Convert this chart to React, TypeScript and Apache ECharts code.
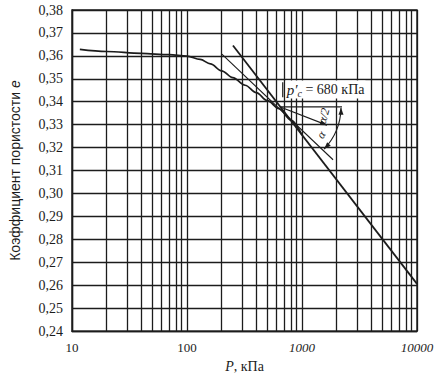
import React, { useEffect, useRef } from "react";
import * as echarts from "echarts";

// Compression curve e – log P (curved part; the straight part follows the virgin line)
const curveP = [11.7, 20, 40, 70, 100, 130, 160, 200, 250, 320, 400, 500, 630, 800, 1000];
const curveE = [0.3628, 0.3619, 0.3611, 0.3605, 0.3599, 0.3585, 0.3565, 0.3535, 0.3505, 0.3472, 0.344, 0.3405, 0.337, 0.332, 0.3254];

// Casagrande construction
const virginP = [251, 10000];
const virginE = [0.3645, 0.2606];
const tangentP = [201, 1862];
const tangentE = [0.3608, 0.3147];
const pointM = [640, 0.3378];
const horizontalP = [640, 2228];
const horizontalE = [0.3378, 0.3378];
const bisectorP = [640, 1648];
const bisectorE = [0.3378, 0.3298];
const pcValue = 680;
const pcTickE = [0.3485, 0.342];
const pcLabelE = 0.3453;

// Axes
const yMin = 0.24;
const yMax = 0.38;
const yStep = 0.01;
const xMin = 10;
const xMax = 10000;
const minorGridP = [20, 30, 40, 50, 60, 70, 80, 90, 200, 300, 400, 500, 600, 700, 800, 900, 2000, 3000, 4000, 5000, 6000, 7000, 8000, 9000];

const INK = "#1c1c1c";
const SERIF = "Liberation Serif";
const SANS = "Liberation Sans";

const pairs = (xs: number[], ys: number[]) => xs.map((x, i) => [x, ys[i]]);

export default function App() {
  const ref = useRef<HTMLDivElement>(null);
  useEffect(() => {
    if (!ref.current) return;
    const chart = echarts.init(ref.current, undefined, { renderer: "svg" });
    const lineSeries = (data: number[][], width: number) => ({
      type: "line",
      data,
      showSymbol: false,
      silent: true,
      lineStyle: { color: INK, width },
      z: 3,
    });
    const tri = (tip: number[], dir: number[], len: number, half: number) => {
      const nx = -dir[1];
      const ny = dir[0];
      const bx = tip[0] - dir[0] * len;
      const by = tip[1] - dir[1] * len;
      return {
        type: "polygon",
        shape: { points: [tip, [bx + nx * half, by + ny * half], [bx - nx * half, by - ny * half]] },
        style: { fill: INK },
      };
    };
    chart.setOption({
      animation: false,
      grid: { left: 72, right: 23, top: 10, bottom: 25, show: true, borderColor: INK, borderWidth: 1.4 },
      xAxis: {
        type: "log",
        logBase: 10,
        min: xMin,
        max: xMax,
        name: "{i|P}{n|, кПа}",
        nameLocation: "middle",
        nameGap: 10,
        nameTextStyle: {
          rich: {
            i: { fontFamily: SERIF, fontSize: 14, fontStyle: "italic", color: INK },
            n: { fontFamily: SERIF, fontSize: 14, color: INK },
          },
        },
        axisLine: { show: true, lineStyle: { color: INK, width: 1.4 } },
        axisTick: { show: false },
        splitLine: { show: true, lineStyle: { color: INK, width: 1.3 } },
        axisLabel: {
          margin: 10,
          formatter: (v: number) => (v >= 1000 ? `{i|${Math.round(v)}}` : `{n|${Math.round(v)}}`),
          rich: {
            i: { fontFamily: SERIF, fontSize: 13, fontStyle: "italic", color: INK },
            n: { fontFamily: SERIF, fontSize: 13, color: INK },
          },
        },
      },
      yAxis: {
        type: "value",
        min: yMin,
        max: yMax,
        interval: yStep,
        name: "{n|Коэффициент пористости }{i|e}",
        nameLocation: "middle",
        nameGap: 50,
        nameTextStyle: {
          rich: {
            n: { fontFamily: SANS, fontSize: 14, color: INK },
            i: { fontFamily: SANS, fontSize: 14, fontStyle: "italic", color: INK },
          },
        },
        axisLine: { show: true, lineStyle: { color: INK, width: 1.4 } },
        axisTick: { show: false },
        splitLine: { show: true, lineStyle: { color: INK, width: 1.3 } },
        axisLabel: {
          margin: 9,
          fontFamily: SERIF,
          fontSize: 14,
          color: INK,
          formatter: (v: number) => v.toFixed(2).replace(".", ","),
        },
      },
      series: [
        {
          type: "line",
          data: pairs(curveP, curveE),
          smooth: 0.35,
          smoothMonotone: "x",
          showSymbol: false,
          silent: true,
          lineStyle: { color: INK, width: 1.7 },
          z: 4,
          markLine: {
            silent: true,
            symbol: "none",
            label: { show: false },
            lineStyle: { color: INK, width: 1.3, type: "solid" },
            data: minorGridP.map((p) => ({ xAxis: p })),
            z: 1,
          },
        },
        lineSeries(pairs(virginP, virginE), 1.8),
        lineSeries(pairs(tangentP, tangentE), 1.1),
        lineSeries(pairs(horizontalP, horizontalE), 1.2),
        lineSeries(pairs(bisectorP, bisectorE), 1.1),
        lineSeries([[pcValue, pcTickE[0]], [pcValue, pcTickE[1]]], 1.2),
        {
          type: "custom",
          silent: true,
          z: 6,
          data: [[pointM[0], pointM[1]]],
          renderItem: (params: any, api: any) => {
            const c = api.coord([api.value(0), api.value(1)]);
            const t0 = api.coord([tangentP[0], tangentE[0]]);
            const t1 = api.coord([tangentP[1], tangentE[1]]);
            const alpha = Math.atan2(t1[1] - t0[1], t1[0] - t0[0]);
            const hEnd = api.coord([horizontalP[1], horizontalE[1]]);
            const bEnd = api.coord([bisectorP[1], bisectorE[1]]);
            const bDirRaw = [bEnd[0] - c[0], bEnd[1] - c[1]];
            const bLen = Math.hypot(bDirRaw[0], bDirRaw[1]);
            const bDir = [bDirRaw[0] / bLen, bDirRaw[1] / bLen];
            const r = hEnd[0] - c[0] - 1;
            const arcEnd = [c[0] + r * Math.cos(alpha), c[1] + r * Math.sin(alpha)];
            const pc = api.coord([pcValue, pcLabelE]);
            return {
              type: "group",
              children: [
                {
                  type: "text",
                  x: pc[0] + 3,
                  y: pc[1],
                  style: {
                    text: "{p|p′}{s|c}{n| = 680 кПа}",
                    align: "left",
                    verticalAlign: "middle",
                    backgroundColor: "#ffffff",
                    padding: [0, 1, 0, 1],
                    rich: {
                      p: { fontFamily: SERIF, fontSize: 15, fontStyle: "italic", fill: INK, lineHeight: 18, verticalAlign: "middle" },
                      s: { fontFamily: SERIF, fontSize: 10, fontStyle: "italic", fill: INK, lineHeight: 10, verticalAlign: "bottom" },
                      n: { fontFamily: SERIF, fontSize: 14, fill: INK, lineHeight: 18, verticalAlign: "middle" },
                    },
                  },
                },
                {
                  type: "arc",
                  shape: { cx: c[0], cy: c[1], r, startAngle: 0.02, endAngle: alpha, clockwise: true },
                  style: { stroke: INK, lineWidth: 1.1, fill: "none" },
                },
                tri([c[0] + r, c[1] + 1], [0, -1], 7, 2.5),
                tri(arcEnd, [-Math.sin(alpha), Math.cos(alpha)], 7, 2.5),
                tri(bEnd, bDir, 7, 2.5),
                {
                  type: "text",
                  x: c[0] + 45 * Math.cos(alpha * 0.27),
                  y: c[1] + 45 * Math.sin(alpha * 0.27),
                  rotation: 1.3,
                  style: {
                    text: "α/2",
                    fontFamily: SERIF,
                    fontSize: 12,
                    fontStyle: "italic",
                    fill: INK,
                    align: "center",
                    verticalAlign: "middle",
                  },
                },
                {
                  type: "text",
                  x: c[0] + 50 * Math.cos(alpha * 0.78),
                  y: c[1] + 50 * Math.sin(alpha * 0.78),
                  rotation: 1.05,
                  style: {
                    text: "α",
                    fontFamily: SERIF,
                    fontSize: 12,
                    fontStyle: "italic",
                    fill: INK,
                    align: "center",
                    verticalAlign: "middle",
                  },
                },
              ],
            };
          },
        },
      ],
    });
    return () => chart.dispose();
  }, []);
  return (
    <div
      ref={ref}
      style={{ position: "fixed", left: 0, top: 0, width: 440, height: 378, background: "#fff" }}
    />
  );
}
